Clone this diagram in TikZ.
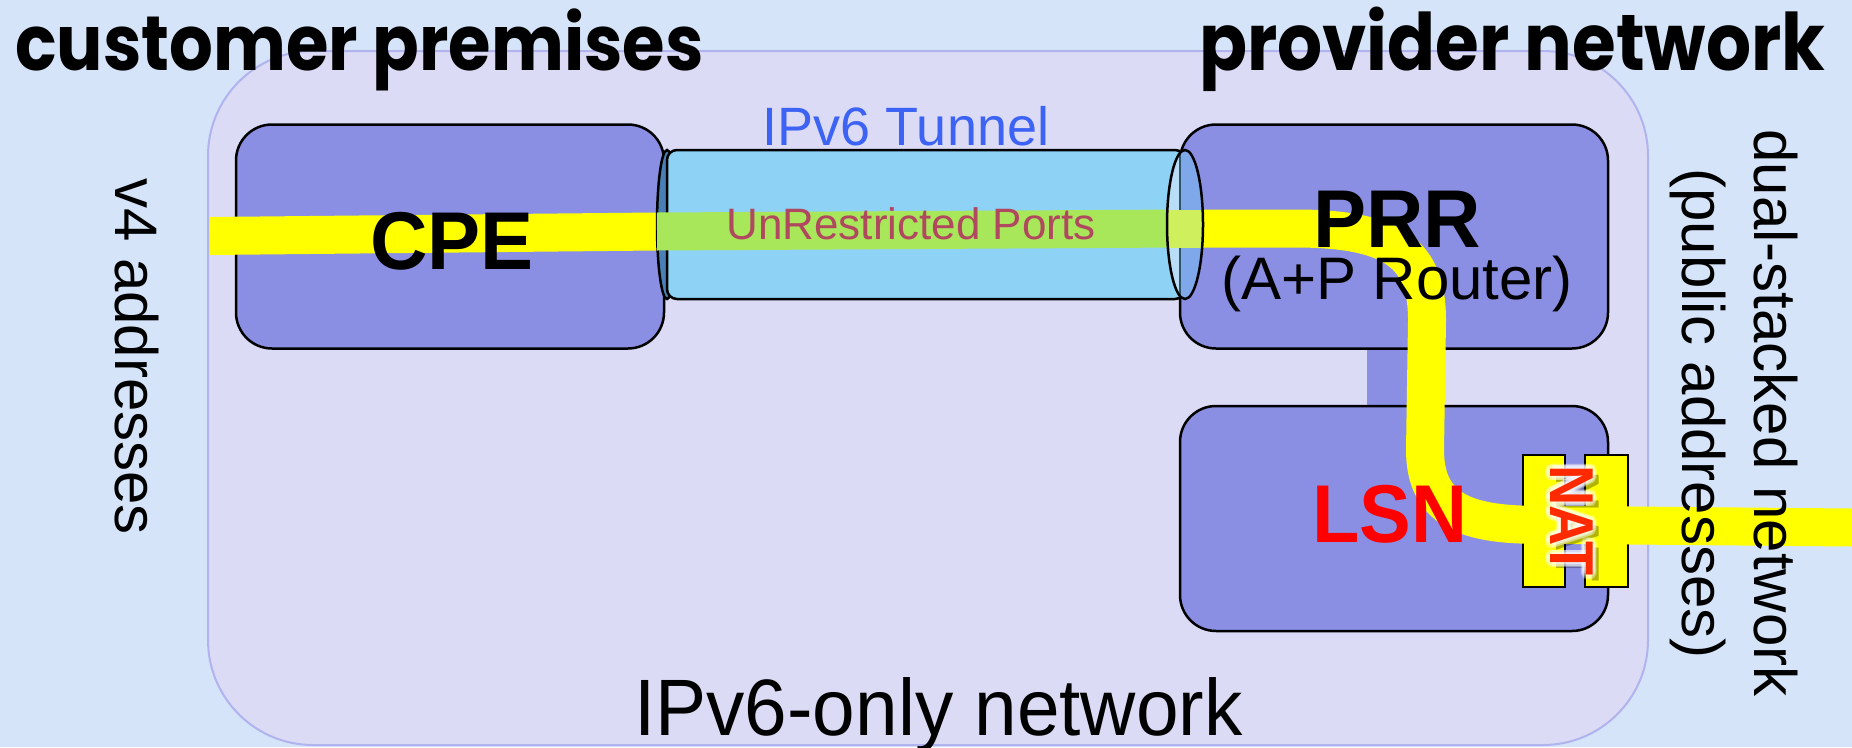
\documentclass[tikz,border=0pt]{standalone}
\usepackage{fontspec}
\setmainfont{Liberation Sans}
\newfontfamily\headfont{Poppins}
\usepackage{graphicx}
\usetikzlibrary{calc}

\definecolor{pagebg}{HTML}{D5E4F9}
\definecolor{netfill}{HTML}{DCDBF5}
\definecolor{netline}{HTML}{B0B3EE}
\definecolor{boxfill}{HTML}{8A8FE4}
\definecolor{tubefill}{HTML}{8ED3F5}
\definecolor{tubeend}{HTML}{B9DDF6}
\definecolor{tubeendover}{HTML}{7EA8EA}
\definecolor{tubedark}{HTML}{4A7FB5}
\definecolor{edgedark}{HTML}{2D5468}
\definecolor{flowyellow}{HTML}{FFFF00}
\definecolor{flowgreen}{HTML}{A8E65A}
\definecolor{flowpale}{HTML}{CFEF5C}
\definecolor{tunnelblue}{HTML}{3D63F4}
\definecolor{portred}{HTML}{B04860}
\definecolor{natred}{HTML}{FF2A00}

\pgfdeclarelayer{bottom}
\pgfdeclarelayer{under}
\pgfsetlayers{bottom,under,main}

\begin{document}
\begin{tikzpicture}[x=1pt,y=-1pt,
  device/.style={draw=black, line width=2.5pt, fill=boxfill, rounded corners=36pt,
    minimum width=428pt, minimum height=224pt, inner sep=0pt},
  natgate/.style={draw=black, line width=2.5pt, fill=flowyellow, inner sep=0pt,
    minimum height=132pt},
  flow/.style={line width=38pt, line cap=butt, line join=round},
  link/.style={boxfill, line width=58pt},
  lbl/.style={inner sep=0pt, anchor=base},
  bigbold/.style={font=\bfseries\fontsize{82pt}{90pt}\selectfont},
  side/.style={font=\fontsize{60pt}{72pt}\selectfont, rotate=-90},
  natfont/.style={font=\bfseries\fontsize{62pt}{66pt}\selectfont, rotate=-90},
  heading/.style={inner sep=0pt, anchor=base west},
]
\useasboundingbox (0,0) rectangle (1852,747);

% page and IPv6-only network area
\begin{pgfonlayer}{bottom}
\fill[pagebg] (0,0) rectangle (1852,747);
\node[draw=netline, fill=netfill, line width=2pt, rounded corners=105pt,
  minimum width=1440pt, minimum height=694pt, inner sep=0pt] (net) at (928,398) {};
\end{pgfonlayer}

% devices
\node[device] (cpe) at (450,236.5) {};
\node[device] (prr) at (1394,236.5) {};
\node[device, minimum height=225pt] (lsn) at (1394,518.5) {};

% PRR -- LSN link, kept beneath the device outlines
\coordinate (linkx) at (1396,0);
\begin{pgfonlayer}{under}
\draw[link] (prr.south -| linkx) -- (lsn.north -| linkx);
\end{pgfonlayer}

% NAT gate
\node[natgate, minimum width=42pt] (natl) at (1544,521) {};
\node[natgate, minimum width=43pt] (natr) at (1606.5,521) {};

% v4 traffic path
\coordinate (flowin) at (210,236);
\coordinate (flowout) at (1852,527.5);
\draw[flow, flowyellow] (flowin) -- (657,231.5) -- (1185,228.5) -- (1300,228.5)
  .. controls (1395,229.5) and (1427,255) .. (1427,320) -- (1425,450)
  .. controls (1425,505) and (1460,522) .. (1520,524.5) -- (flowout);

% IPv6 tunnel
\draw[line width=2.5pt, fill=tubedark] (667,224.5) ellipse [x radius=10, y radius=74.5];
\node[draw=black, line width=2.5pt, fill=tubefill, rounded corners=10pt,
  minimum width=518pt, minimum height=149pt, inner sep=0pt] (tube) at (926,224.5) {};
\draw[flow, flowgreen] (657,231.5) -- (1185,228.5);
\begin{scope}
  \clip (1185,224.5) ellipse [x radius=18, y radius=74.5];
  \fill[tubeend] (1160,140) rectangle (1181,310);
  \fill[tubeendover] (1181,140) rectangle (1210,310);
  \draw[flow, flowpale] (1160,228.5) -- (1210,228.5);
  \draw[edgedark, line width=2.5pt] (1180,140) -- (1180,209.5);
  \draw[edgedark, line width=2.5pt] (1180,247.5) -- (1180,310);
\end{scope}
\draw[line width=2.5pt] (1185,224.5) ellipse [x radius=18, y radius=74.5];

% labels
\node[lbl, bigbold] (cpetxt) at (452,269) {\scalebox{0.97}[1]{CPE}};
\node[lbl, bigbold] (prrtxt) at (1397,247) {\scalebox{0.97}[1]{PRR}};
\node[lbl, font=\fontsize{60pt}{66pt}\selectfont] (aptxt) at (1397,299) {(A+P Router)};
\node[lbl, bigbold, text=red] (lsntxt) at (1390,542) {\scalebox{0.945}[1]{LSN}};
\node[lbl, text=tunnelblue, font=\fontsize{54pt}{60pt}\selectfont] (tuntxt) at (906,145) {IPv6 Tunnel};
\node[lbl, text=portred, font=\fontsize{44pt}{50pt}\selectfont] (porttxt) at (911,239) {UnRestricted Ports};
\node[lbl, font=\fontsize{80pt}{88pt}\selectfont] (nettxt) at (938.5,735) {\scalebox{0.957}[1]{IPv6-only network}};
\node[lbl, side] (v4txt) at (115,356.5) {v4 addresses};
\node[lbl, side] (dstxt) at (1754,413) {dual-stacked network};
\node[lbl, side] (pubtxt) at (1682,413.5) {(public addresses)};

% NAT label with shadow and glow
\node[lbl, natfont, text=black, opacity=0.3] (natshadow) at (1556,526.5) {\scalebox{0.9}[1]{NAT}};
\foreach \a in {0,30,...,330} {
  \node[lbl, natfont, text=white, opacity=0.3] (natglow\a) at ($(1550,520.5)+(\a:4.5)$) {\scalebox{0.9}[1]{NAT}};
}
\node[lbl, natfont, text=natred] (nattxt) at (1550,520.5) {\scalebox{0.9}[1]{NAT}};

% headings
\node[heading] (custtxt) at (15,70)
  {\scalebox{1}[1.12]{\resizebox{688pt}{!}{\headfont\bfseries customer premises}}};
\node[heading] (provtxt) at (1199,70)
  {\scalebox{1}[1.12]{\resizebox{626pt}{!}{\headfont\bfseries provider network}}};
\end{tikzpicture}
\end{document}
